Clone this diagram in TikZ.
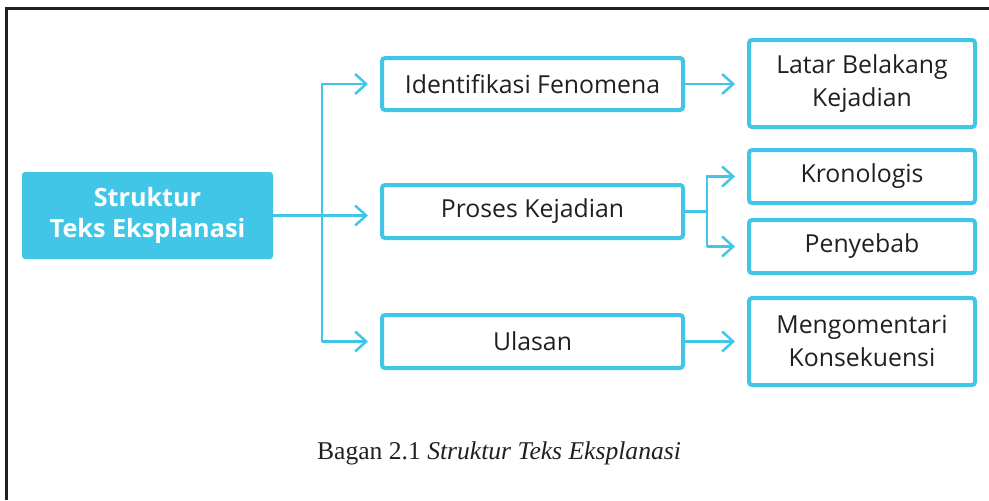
\documentclass[tikz,border=0pt]{standalone}
\usepackage{fontspec}
\setmainfont{Liberation Serif}
\newfontfamily\boxfont{Open Sans}
\usetikzlibrary{arrows.meta}
\definecolor{cyanbox}{HTML}{42C6E8}
\definecolor{inkgray}{HTML}{231F20}
\tikzset{
  plainbox/.style={draw=cyanbox, line width=4*0.75pt, rounded corners=3*0.75pt,
    fill=white, align=center, inner sep=0pt, text=inkgray,
    font=\boxfont\fontsize{18.6pt}{24.75pt}\selectfont},
  mainbox/.style={fill=cyanbox, rounded corners=3*0.75pt, align=center,
    inner sep=0pt, text=white, minimum width=251*0.75pt, minimum height=87*0.75pt,
    font=\boxfont\bfseries\fontsize{18.9pt}{23.25pt}\selectfont},
  conn/.style={draw=cyanbox, line width=2.5*0.75pt},
  arr/.style={conn, -{Straight Barb[length=11*0.75pt, width=20*0.75pt, line width=2.5*0.75pt]},
    shorten >=12*0.75pt},
  frameline/.style={draw=inkgray, line width=3*0.75pt}
}
\begin{document}
\begin{tikzpicture}[x=0.75pt,y=-0.75pt]
\useasboundingbox (0,0) rectangle (989,500);
% outer frame
\coordinate (fA) at (6,500);
\coordinate (fB) at (6,8);
\coordinate (fC) at (989,8);
\draw[frameline] (fA) -- (fB) -- (fC);
% nodes
\node[mainbox] (main) at (147.5,215.5) {Struktur\\Teks Eksplanasi};
\node[plainbox, minimum width=301*0.75pt, minimum height=52*0.75pt] (idf) at (532.5,84) {Identifikasi Fenomena};
\node[plainbox, minimum width=301*0.75pt, minimum height=53*0.75pt] (pro) at (532.5,211.5) {Proses Kejadian};
\node[plainbox, minimum width=301*0.75pt, minimum height=53*0.75pt] (ula) at (532.5,341.5) {Ulasan};
\node[plainbox, minimum width=226*0.75pt, minimum height=87*0.75pt] (lat) at (862,83.5) {Latar Belakang\\Kejadian};
\node[plainbox, minimum width=226*0.75pt, minimum height=53*0.75pt] (kro) at (862,176.5) {Kronologis};
\node[plainbox, minimum width=226*0.75pt, minimum height=53*0.75pt] (pen) at (862,246.5) {Penyebab};
\node[plainbox, minimum width=226*0.75pt, minimum height=87*0.75pt] (men) at (862,341.5) {Mengomentari\\Konsekuensi};
% caption
\node[font=\fontsize{19.2pt}{22pt}\selectfont, text=inkgray, anchor=base] (cap) at (499,459) {Bagan 2.1 \textit{Struktur Teks Eksplanasi}};
% connectors
\coordinate (tr) at (322,0);
\coordinate (t2) at (707,0);
\draw[arr] (tr |- ula.west) -- (tr |- idf.west) -- (idf.west);
\draw[arr] (tr |- ula.west) -- (ula.west);
\draw[arr] (main.east) -- (main.east -| pro.west);
\draw[arr] (idf.east) -- (idf.east -| lat.west);
\draw[conn] (pro.east) -- (pro.east -| t2);
\draw[arr] (t2 |- pen.west) -- (t2 |- kro.west) -- (kro.west);
\draw[arr] (t2 |- pen.west) -- (pen.west);
\draw[arr] (ula.east) -- (ula.east -| men.west);
\end{tikzpicture}
\end{document}
